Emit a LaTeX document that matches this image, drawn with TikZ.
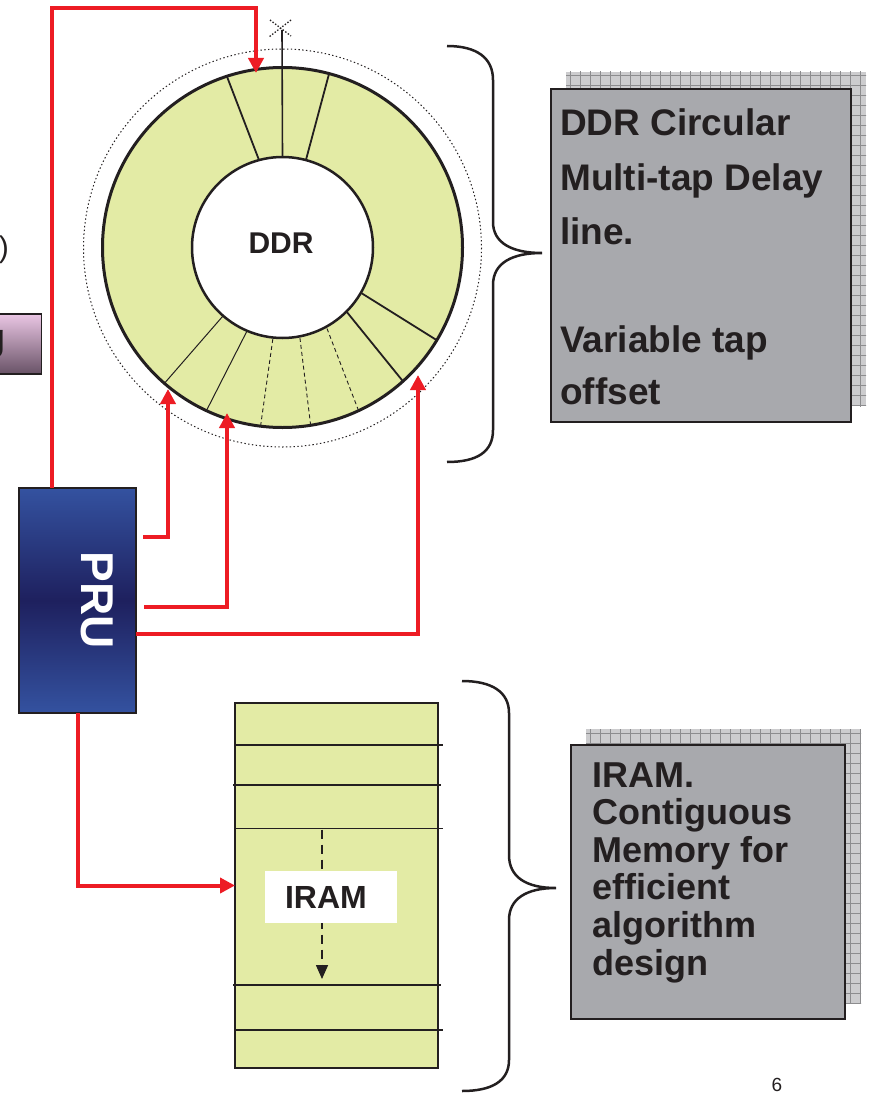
\documentclass[tikz,border=0pt]{standalone}
\usepackage{fontspec}
\setmainfont{Liberation Sans}
\usetikzlibrary{arrows.meta,calc}

\definecolor{wire}{RGB}{237,28,36}
\definecolor{ringfill}{RGB}{227,235,165}
\definecolor{notegray}{RGB}{168,169,173}
\definecolor{gridbg}{RGB}{204,204,206}
\definecolor{gridln}{RGB}{140,140,142}
\definecolor{pruhi}{RGB}{52,82,160}
\definecolor{prulo}{RGB}{30,32,94}
\definecolor{pinkhi}{RGB}{234,198,228}
\definecolor{pinklo}{RGB}{104,82,102}
\definecolor{ink}{RGB}{35,31,32}

\tikzset{
  redwire/.style={draw=wire, line width=4, line join=miter,
    -{Triangle[length=15,width=15]}},
  notebox/.style={draw=ink, line width=2, fill=notegray},
  notetext/.style={anchor=base west, inner sep=0, text=ink},
  segline/.style={draw=ink, line width=1.8},
  thinseg/.style={draw=ink, line width=1},
  dashseg/.style={draw=ink, line width=0.9, dash pattern=on 4 off 3},
  bracepath/.style={draw=ink, line width=2.5},
  rowline/.style={draw=ink, line width=1.8},
  hatch/.style={draw=gridln, line width=0.8},
}

\begin{document}
\begin{tikzpicture}[x=1pt,y=-1pt]
\useasboundingbox (0,0) rectangle (869,1094);
\clip (0,0) rectangle (869,1094);
\fill[white] (0,0) rectangle (869,1094);

% partly visible items at the left edge
\node[anchor=east, inner sep=0, text=ink, font=\fontsize{30}{34}\selectfont] (leftmark) at (9,250) {)};
\node[draw=ink, line width=1.8, top color=pinkhi, bottom color=pinklo,
      minimum width=50, minimum height=60, inner sep=0, outer sep=0] (pinkbox) at (16.5,344) {};
\node[anchor=base east, inner sep=0, text=ink, font=\bfseries\fontsize{38}{40}\selectfont] (pinktxt) at (6,350) {g};

% circular delay line
\draw[ink, line width=1, dash pattern=on 1.4 off 2.4] (282.5,248) circle[radius=199];
\node[circle, draw=ink, line width=3, fill=ringfill, minimum size=360, inner sep=0, outer sep=0] (ring) at (282.5,247.5) {};
\coordinate (antennatop) at (282,30);
\draw[segline] (ring.108) -- ($(ring.center)!0.5!(ring.105)$);
\draw[segline] (ring.75) -- ($(ring.center)!0.5!(ring.75)$);
\draw[thinseg] (ring.229) -- ($(ring.center)!0.5!(ring.229.5)$);
\draw[thinseg] (ring.245) -- ($(ring.center)!0.5!(ring.247)$);
\draw[dashseg] (ring.263) -- ($(ring.center)!0.5!(ring.264)$);
\draw[dashseg] (ring.279) -- ($(ring.center)!0.5!(ring.281)$);
\draw[dashseg] (ring.295) -- ($(ring.center)!0.5!(ring.299)$);
\draw[segline] (ring.312) -- ($(ring.center)!0.5!(ring.315.5)$);
\draw[segline] (ring.329.5) -- ($(ring.center)!0.5!(ring.330.5)$);
\node[circle, draw=ink, line width=2.5, fill=white, minimum size=181, inner sep=0, outer sep=0] (hub) at (282.5,247.5) {};
\node[font=\bfseries\fontsize{30}{34}\selectfont, text=ink, inner sep=0] (ddrlbl) at (281,243) {DDR};
\draw[ink, line width=1.6] (hub.90) -- (antennatop);
\draw[ink, line width=1.3, dash pattern=on 1.4 off 1.8] (270,20) -- (291,36) (291,20) -- (269,37);

% tap points on the ring
\coordinate (t1) at (256,73);
\coordinate (t2) at (168,389);
\coordinate (t3) at (227,413);
\coordinate (t4) at (418,375);

% PRU block
\node[draw=ink, line width=2, top color=pruhi, bottom color=pruhi, middle color=prulo,
      minimum width=117, minimum height=225, inner sep=0, outer sep=0] (pru) at (77.5,600.5) {};
\node[rotate=-90, text=white, font=\bfseries\fontsize{46}{50}\selectfont, inner sep=0] (prutxt) at (97,600) {PRU};

% red connectors from the PRU
\coordinate (k1) at (52,8);
\coordinate (s2) at (143,537);
\coordinate (s3) at (144,607);
\coordinate (k4) at (418,634);
\draw[redwire] (pru.north -| k1) -- (k1) -| (t1);
\draw[redwire] (s2) -| (t2);
\draw[redwire] (s3) -| (t3);
\draw[redwire] (pru.east |- k4) -| (t4);

% IRAM block
\node[draw=ink, line width=2, fill=ringfill, minimum width=203, minimum height=365,
      inner sep=0, outer sep=0] (iram) at (336.5,885.5) {};
\draw[rowline] (235,745) -- (443,745);
\draw[rowline] (233,785) -- (441,785);
\draw[rowline] (235,828.5) -- (443,828.5);
\draw[rowline] (233,985) -- (441,985);
\draw[rowline] (235,1030) -- (443,1030);
\draw[ink, line width=1.6, dash pattern=on 9 off 6, -{Triangle[length=14,width=12]}] (322,829.5) -- (322,979);
\node[fill=white, minimum width=132, minimum height=52, text width=92, align=left,
      inner xsep=20, inner ysep=0, text=ink, font=\bfseries\fontsize{32}{36}\selectfont] (iramlbl) at (331,897) {IRAM};
\draw[redwire] (pru.south) |- (iram.west);

% braces
\draw[bracepath] (447,46) .. controls (477,46) and (493,58) .. (493,80) -- (493,222)
  .. controls (493,243) and (512,253) .. (542,253)
  .. controls (512,253) and (493,263) .. (493,285) -- (493,430)
  .. controls (493,452) and (477,462) .. (447,462);
\draw[bracepath] (462,681) .. controls (492,681) and (509,692) .. (509,713) -- (509,855)
  .. controls (509,877) and (526,888) .. (556,888)
  .. controls (526,888) and (509,899) .. (509,920) -- (509,1060)
  .. controls (509,1081) and (492,1091) .. (462,1091);

% note boxes with hatched shadows
\begin{scope}
  \clip (566,72) rectangle (866,406);
  \fill[gridbg] (566,72) rectangle (866,406);
  \foreach \gx in {570,580,...,870} \draw[hatch] (\gx,70) -- (\gx,410);
  \foreach \gy in {75,85,...,405} \draw[hatch] (560,\gy) -- (870,\gy);
\end{scope}
\node[notebox, minimum width=300, minimum height=333, inner sep=0, outer sep=0] (note1) at (701,255.5) {};
\begin{scope}[font=\bfseries\fontsize{37}{44}\selectfont]
  \node[notetext] (n1a) at (560,136) {DDR Circular};
  \node[notetext] (n1b) at (560,190) {Multi-tap Delay};
  \node[notetext] (n1c) at (560,244) {line.};
  \node[notetext] (n1d) at (560,352) {Variable tap};
  \node[notetext] (n1e) at (560,404.5) {offset};
\end{scope}

\begin{scope}
  \clip (586,729) rectangle (861,1003);
  \fill[gridbg] (586,729) rectangle (861,1003);
  \foreach \gx in {590,600,...,870} \draw[hatch] (\gx,720) -- (\gx,1010);
  \foreach \gy in {733,743,...,1003} \draw[hatch] (580,\gy) -- (870,\gy);
\end{scope}
\node[notebox, minimum width=274, minimum height=274, inner sep=0, outer sep=0] (note2) at (708,882) {};
\begin{scope}[font=\bfseries\fontsize{36}{40}\selectfont]
  \node[notetext] (n2a) at (592.5,787) {IRAM.};
  \node[notetext] (n2b) at (592.5,824.5) {Contiguous};
  \node[notetext] (n2c) at (592.5,862) {Memory for};
  \node[notetext] (n2d) at (592.5,899.5) {efficient};
  \node[notetext] (n2e) at (592.5,937) {algorithm};
  \node[notetext] (n2f) at (592.5,975) {design};
\end{scope}

% page number
\node[anchor=base, inner sep=0, text=ink, font=\fontsize{19}{22}\selectfont] (pagenum) at (777,1091) {6};
\end{tikzpicture}
\end{document}
